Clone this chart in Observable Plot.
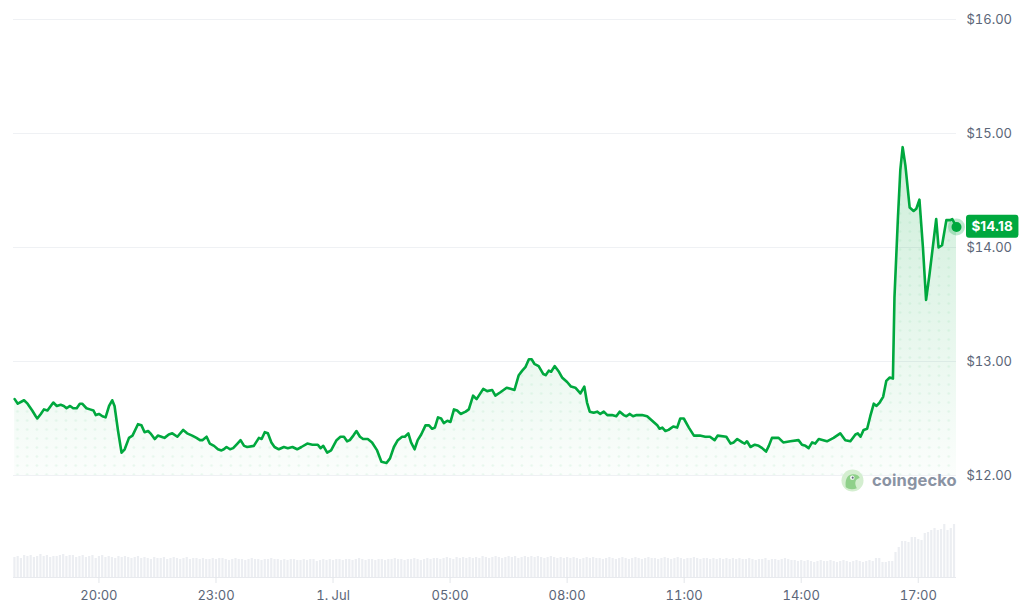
<!DOCTYPE html>
<html>
<head>
<meta charset="utf-8">
<script src="https://cdn.jsdelivr.net/npm/d3@7"></script>
<script src="https://cdn.jsdelivr.net/npm/@observablehq/plot@0.6"></script>
<style>
  html, body { margin: 0; padding: 0; background: #fff; }
  #wrap { position: relative; width: 1024px; height: 606px; overflow: hidden; font-family: Inter, "Noto Sans", sans-serif; }
  #wrap > svg { position: absolute; left: 0; top: 0; }
  .brand { position: absolute; left: 841px; top: 468px; height: 24px; display: flex; align-items: center; gap: 8px; }
  .brand span { font-family: Inter, sans-serif; font-weight: 700; font-size: 16.5px; color: #8a93a3; letter-spacing: 0.1px; }
</style>
</head>
<body>
<div id="wrap"></div>
<script>
// Price trace: hours since 00:00, 30 Jun (values > 24 are on 1 Jul)
const times = [
  17.84,17.92,18.08,18.17,18.29,18.38,18.42,18.51,18.59,18.68,
  18.83,18.92,19.02,19.10,19.17,19.26,19.34,19.43,19.51,19.57,
  19.68,19.77,19.86,19.92,20.00,20.09,20.17,20.26,20.34,20.40,
  20.49,20.58,20.66,20.77,20.86,21.00,21.09,21.17,21.26,21.32,
  21.43,21.51,21.60,21.68,21.79,21.88,22.01,22.16,22.26,22.39,
  22.50,22.59,22.65,22.76,22.84,22.95,23.05,23.14,23.20,23.27,
  23.36,23.44,23.55,23.63,
  23.72,23.80,23.97,24.10,24.17,24.25,24.33,24.42,24.50,24.61,
  24.74,24.84,24.96,25.08,25.19,25.34,25.47,25.61,25.68,25.75,
  25.85,25.95,26.09,26.19,26.28,26.36,26.43,26.52,26.60,26.69,
  26.77,26.89,27.00,27.13,27.24,27.37,27.46,27.56,27.66,27.77,
  27.84,27.93,28.00,28.09,28.17,28.26,28.37,28.46,28.54,28.61,
  28.69,28.77,28.84,28.93,29.01,29.10,29.18,29.27,29.40,29.48,
  29.59,29.68,29.85,29.95,30.08,30.16,30.29,30.45,30.55,30.65,
  30.76,30.85,30.93,31.02,31.09,31.16,31.27,31.39,31.45,31.53,
  31.59,31.68,31.79,31.87,32.00,32.10,32.21,32.34,32.44,32.51,
  32.58,32.68,32.77,32.85,32.94,33.03,33.15,33.26,33.35,33.45,
  33.52,33.60,33.69,33.78,33.92,34.05,34.18,34.31,34.37,34.44,
  34.52,34.60,34.72,34.82,34.90,34.99,35.12,35.25,35.40,35.54,
  35.66,
  35.78,35.86,36.08,36.19,36.27,36.36,36.49,36.55,36.61,36.70,
  36.81,36.91,37.00,37.10,37.17,37.25,37.42,37.54,37.72,37.93,
  38.02,38.11,38.19,38.28,38.36,38.45,38.66,38.83,39.00,39.13,
  39.26,39.39,39.45,39.52,39.60,39.69,39.77,39.86,39.93,40.01,
  40.10,40.18,40.27,40.35,40.39,40.48,40.54,40.60,40.67,40.78,
  40.88,40.95,41.03,41.12,41.20,41.29,41.46,41.52,41.61,41.72,
  41.82,41.87,41.98
];
const prices = [
  12.67,12.63,12.66,12.63,12.57,12.52,12.50,12.54,12.58,12.57,
  12.64,12.61,12.62,12.61,12.59,12.61,12.59,12.59,12.63,12.63,
  12.59,12.58,12.57,12.53,12.54,12.52,12.51,12.61,12.66,12.61,
  12.39,12.20,12.23,12.33,12.35,12.45,12.44,12.38,12.39,12.37,
  12.32,12.35,12.34,12.33,12.36,12.37,12.34,12.40,12.37,12.35,
  12.33,12.31,12.31,12.34,12.28,12.26,12.23,12.22,12.23,12.25,
  12.23,12.24,12.28,12.31,
  12.26,12.25,12.26,12.33,12.32,12.38,12.37,12.29,12.25,12.23,
  12.25,12.24,12.25,12.23,12.25,12.28,12.27,12.27,12.24,12.26,
  12.20,12.22,12.31,12.34,12.34,12.30,12.31,12.35,12.39,12.34,
  12.32,12.32,12.29,12.22,12.12,12.11,12.15,12.25,12.31,12.34,
  12.34,12.37,12.29,12.23,12.31,12.36,12.44,12.44,12.41,12.42,
  12.51,12.50,12.46,12.48,12.47,12.58,12.57,12.54,12.56,12.58,
  12.70,12.67,12.76,12.74,12.75,12.70,12.73,12.77,12.76,12.75,
  12.88,12.92,12.95,13.02,13.02,12.98,12.96,12.89,12.88,12.92,
  12.91,12.96,12.91,12.86,12.82,12.78,12.77,12.72,12.78,12.64,
  12.56,12.55,12.56,12.54,12.56,12.53,12.53,12.52,12.56,12.53,
  12.52,12.54,12.52,12.53,12.53,12.52,12.48,12.44,12.41,12.42,
  12.39,12.40,12.43,12.42,12.50,12.50,12.42,12.35,12.35,12.34,
  12.34,
  12.31,12.35,12.34,12.28,12.29,12.32,12.29,12.28,12.30,12.25,
  12.27,12.26,12.24,12.21,12.26,12.33,12.33,12.29,12.30,12.31,
  12.27,12.26,12.24,12.29,12.28,12.32,12.30,12.33,12.37,12.31,
  12.30,12.36,12.37,12.34,12.40,12.41,12.52,12.63,12.61,12.64,
  12.69,12.83,12.86,12.85,13.56,14.27,14.68,14.88,14.72,14.35,
  14.32,14.34,14.42,14.00,13.54,13.77,14.25,14.00,14.02,14.24,
  14.24,14.25,14.18
];

// Volume: one bar per 5 minutes starting 17:50 (30 Jun), relative units
const volumeStartHour = 17 + 50 / 60;
const volumeStepMinutes = 5;
const volumes = [
  20,21,19,22,21,22,20,21,23,21,
  22,20,21,21,22,23,21,22,22,20,
  21,22,20,21,22,19,21,22,20,21,
  20,19,21,20,21,20,19,20,21,19,
  20,19,18,20,19,19,20,18,19,20,
  19,18,19,20,18,19,19,18,19,18,
  18,19,18,19,19,18,17,18,19,18,
  18,17,18,19,18,18,17,18,18,19,
  18,18,17,18,17,18,18,17,17,18,
  17,18,18,16,17,18,17,18,17,18,
  18,17,18,18,17,18,19,18,17,18,
  18,17,18,18,17,18,18,19,18,18,
  17,18,18,19,18,17,18,19,18,19,
  19,18,19,20,19,18,20,19,20,19,
  20,19,20,19,21,20,19,20,21,20,
  19,20,21,20,21,19,20,21,20,21,
  20,21,20,19,20,21,20,19,20,19,
  20,19,20,19,18,19,20,19,20,19,
  19,18,19,20,19,18,19,20,19,18,
  19,20,19,18,19,20,19,19,18,19,
  20,19,18,19,20,19,18,19,19,20,
  19,18,19,19,18,19,18,19,18,19,
  18,19,18,19,18,18,19,18,17,18,
  18,19,17,18,18,17,18,19,18,17,
  17,16,17,16,17,16,15,16,17,16,
  16,17,16,15,16,17,16,15,16,17,
  16,15,16,17,16,19,19,15,15,16,
  16,25,30,36,36,35,40,40,38,37,
  44,45,47,49,47,48,53,47,49,53
];

const tickHours = [20, 23, 26, 29, 32, 35, 38, 41];
const tickLabels = ["20:00", "23:00", "1. Jul", "05:00", "08:00", "11:00", "14:00", "17:00"];
const priceTicks = [12, 13, 14, 15, 16];

const GREEN = "#00a83e";
const TEXT = "#5b6678";
const xDomain = [17.81, 41.98];

const series = times.map((t, i) => ({t, p: prices[i]}));
const last = series[series.length - 1];
const volData = volumes.map((v, i) => ({t: volumeStartHour + i * volumeStepMinutes / 60, v}));

const wrap = document.getElementById("wrap");

// Volume panel + time axis
const volPlot = Plot.plot({
  width: 1024, height: 606,
  marginLeft: 13, marginRight: 68, marginTop: 522, marginBottom: 29,
  style: {background: "transparent", fontFamily: "Inter, sans-serif", overflow: "visible"},
  x: {domain: xDomain, axis: null, label: null},
  y: {domain: [0, 55], axis: null, label: null},
  marks: [
    Plot.ruleX(volData, {x: "t", y1: 0, y2: "v", stroke: "#eceef2", strokeWidth: 2.2}),
    Plot.ruleY([0], {stroke: "#e8eaee"}),
    Plot.axisX(tickHours, {
      tickFormat: d => tickLabels[tickHours.indexOf(d)],
      label: null,
      tickSize: 6, tickPadding: 7, stroke: "#e3e6ea", fill: TEXT, fontSize: 13
    })
  ]
});
wrap.appendChild(volPlot);

// Price panel
const pricePlot = Plot.plot({
  width: 1024, height: 606,
  marginLeft: 13, marginRight: 68, marginTop: 19, marginBottom: 131,
  style: {background: "transparent", fontFamily: "Inter, sans-serif", overflow: "visible"},
  x: {domain: xDomain, axis: null, label: null},
  y: {domain: [12, 16], axis: null, label: null},
  marks: [
    Plot.ruleY(priceTicks, {stroke: "#eff1f4"}),
    Plot.areaY(series, {x: "t", y1: 12, y2: "p", fill: "url(#areaGrad)"}),
    Plot.areaY(series, {x: "t", y1: 12, y2: "p", fill: "url(#areaDots)"}),
    Plot.lineY(series, {x: "t", y: "p", stroke: GREEN, strokeWidth: 2.6, strokeLinejoin: "round", strokeLinecap: "round"}),
    Plot.axisY(priceTicks, {anchor: "right", label: null, tickSize: 0, tickPadding: 10, tickFormat: d => "$" + d.toFixed(2), fill: TEXT, fontSize: 13}),
    Plot.dot([last], {x: "t", y: "p", r: 8.5, fill: GREEN, fillOpacity: 0.25}),
    Plot.dot([last], {x: "t", y: "p", r: 5, fill: GREEN}),
    Plot.text([last], {x: "t", y: "p", text: d => "$" + d.p.toFixed(2), dx: 15, textAnchor: "start", fill: "white", fontWeight: "bold", fontSize: 13.5, className: "lastlabel"})
  ]
});
wrap.appendChild(pricePlot);

// gradient + dot texture definitions
const ns = "http://www.w3.org/2000/svg";
const defs = document.createElementNS(ns, "defs");
defs.innerHTML = `
  <linearGradient id="areaGrad" x1="0" y1="0" x2="0" y2="1">
    <stop offset="0" stop-color="${GREEN}" stop-opacity="0.2"/>
    <stop offset="1" stop-color="${GREEN}" stop-opacity="0.015"/>
  </linearGradient>
  <pattern id="areaDots" width="9.7" height="9" patternUnits="userSpaceOnUse" x="3" y="2">
    <circle cx="4.8" cy="4.5" r="1.3" fill="${GREEN}" fill-opacity="0.07"/>
  </pattern>`;
pricePlot.insertBefore(defs, pricePlot.firstChild);

// rounded badge behind the last price label (same local frame as the text)
const lbl = pricePlot.querySelector("g.lastlabel text");
if (lbl) {
  const bb = lbl.getBBox();
  const rect = document.createElementNS(ns, "rect");
  rect.setAttribute("x", bb.x - 5.5);
  rect.setAttribute("y", bb.y - 3.5);
  rect.setAttribute("width", bb.width + 11);
  rect.setAttribute("height", bb.height + 7);
  rect.setAttribute("rx", 3);
  rect.setAttribute("fill", GREEN);
  const tr = lbl.getAttribute("transform");
  if (tr) rect.setAttribute("transform", tr);
  lbl.parentNode.insertBefore(rect, lbl);
}

// watermark
const brand = document.createElement("div");
brand.className = "brand";
brand.innerHTML = `
  <svg width="23" height="23" viewBox="0 0 24 24">
    <circle cx="12" cy="12" r="11.5" fill="#d4eed0"/>
    <path d="M5 19 C4 12 6 6 12 5.5 C16 5.2 19 7 19.5 9.5 C17.5 10 15.5 11 15 13.5 C14.6 16 15.5 18 16.5 20 C13 21.5 8 21.5 5 19 Z" fill="#8fd08a"/>
    <circle cx="11.8" cy="9" r="2.3" fill="#fff"/>
    <circle cx="12.2" cy="9" r="1.1" fill="#5b6678"/>
  </svg>
  <span>coingecko</span>`;
wrap.appendChild(brand);
</script>
</body>
</html>
